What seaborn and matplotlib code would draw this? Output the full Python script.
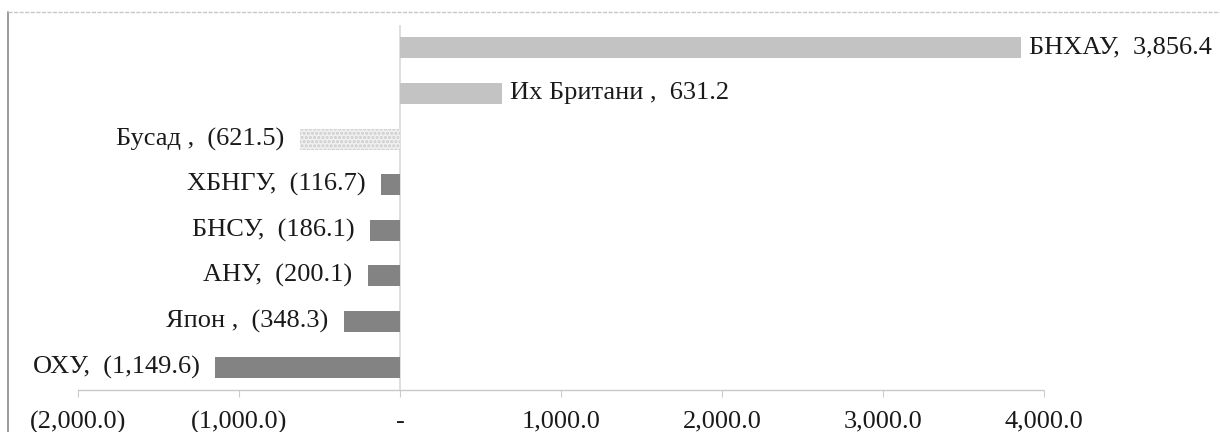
import matplotlib
matplotlib.use("Agg")
import matplotlib.pyplot as plt
import matplotlib.ticker as mticker
from matplotlib.lines import Line2D
import seaborn as sns

# data (top to bottom)
countries = ["БНХАУ", "Их Британи", "Бусад", "ХБНГУ", "БНСУ", "АНУ", "Япон", "ОХУ"]
values = [3856.4, 631.2, -621.5, -116.7, -186.1, -200.1, -348.3, -1149.6]
label_names = ["БНХАУ,", "Их Британи ,", "Бусад ,", "ХБНГУ,", "БНСУ,", "АНУ,", "Япон ,", "ОХУ,"]
x_ticks = [-2000, -1000, 0, 1000, 2000, 3000, 4000]

bar_colors = ["#c3c3c3", "#c3c3c3", "#f0f0f0", "#838383", "#838383", "#838383", "#838383", "#838383"]


def fmt_num(v):
    if v == 0:
        return "-"
    if v < 0:
        return "({:,.1f})".format(-v)
    return "{:,.1f}".format(v)


sns.set_style("white")
plt.rcParams["font.family"] = ["Liberation Serif", "DejaVu Serif"]
plt.rcParams["hatch.linewidth"] = 1.5

fig = plt.figure(figsize=(12.2, 4.32), dpi=100)
ax = fig.add_axes([0.0639, 0.0972, 0.7918, 0.845])

sns.barplot(x=values, y=countries, hue=countries, palette=bar_colors,
            orient="h", width=0.46, legend=False, ax=ax, saturation=1)

# "Бусад" bar is drawn with a dotted fill
for patch, name in zip(ax.patches, countries):
    patch.set_linewidth(0)
    if name == "Бусад":
        patch.set_edgecolor("#cccccc")
        patch.set_hatch("....")
    else:
        patch.set_edgecolor("none")

ax.axvline(0, color="#d8d8d8", lw=1.2, zorder=0)

for i, (name, v) in enumerate(zip(label_names, values)):
    txt = name + "  " + fmt_num(v)
    off = 6 if v > 0 else -11
    ax.annotate(txt, (v, i), xytext=(off, 0), textcoords="offset points",
                ha="left" if v > 0 else "right", va="center",
                fontsize=19, color="#1a1a1a", annotation_clip=False)

ax.set_xlim(-2000, 4000)
ax.set_ylim(7.5, -0.5)
ax.set_xticks(x_ticks)
ax.xaxis.set_major_formatter(mticker.FuncFormatter(lambda v, p: fmt_num(v)))
ax.tick_params(axis="x", labelsize=19, colors="#1a1a1a", length=5,
               color="#cccccc", direction="out", bottom=True, pad=10)
ax.set_yticks([])
ax.set_ylabel("")
ax.set_xlabel("")

for side in ["top", "right", "left"]:
    ax.spines[side].set_visible(False)
ax.spines["bottom"].set_color("#c8c8c8")
ax.spines["bottom"].set_linestyle((0, (2, 1)))
ax.spines["bottom"].set_linewidth(1)

# chart area border seen at left and top
fig.add_artist(Line2D([8 / 1220, 8 / 1220], [0, 1 - 12 / 432], transform=fig.transFigure,
                      color="#8a8a8a", lw=1.2))
fig.add_artist(Line2D([8 / 1220, 1], [1 - 12 / 432, 1 - 12 / 432], transform=fig.transFigure,
                      color="#c8c8c8", lw=1, linestyle=(0, (3, 1))))

fig.savefig("out.png", dpi=100)
